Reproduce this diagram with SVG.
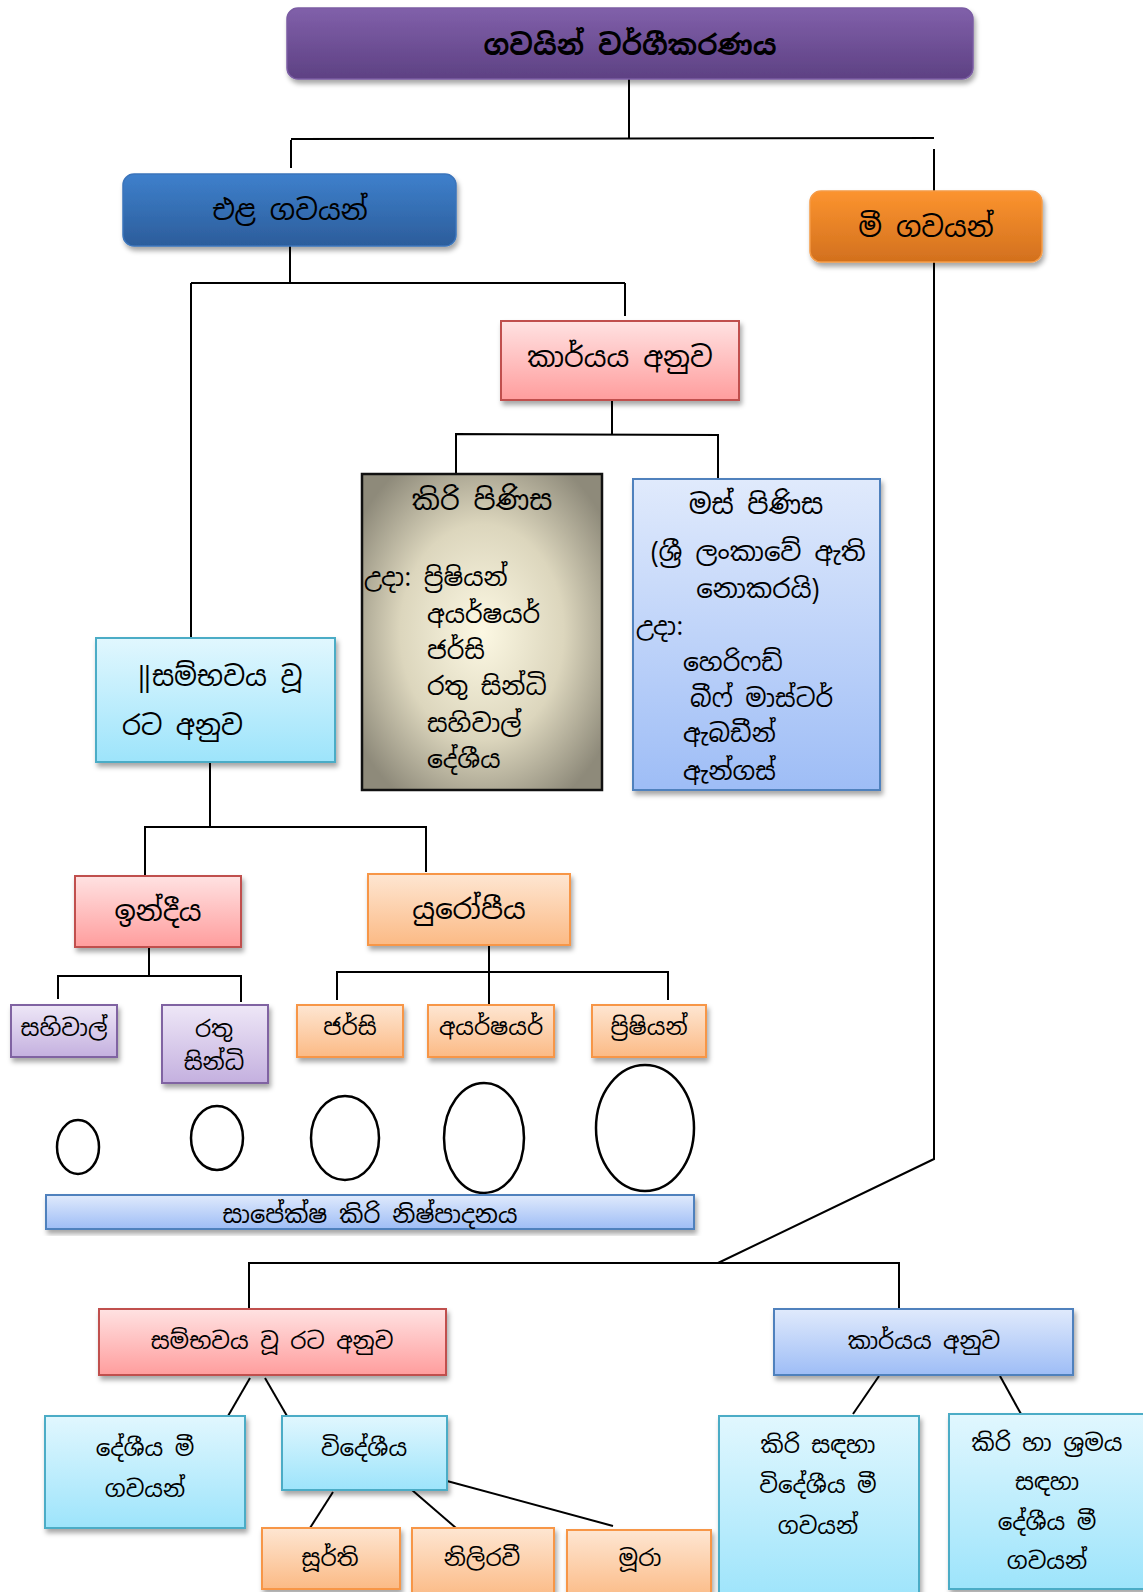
<svg xmlns="http://www.w3.org/2000/svg" width="1143" height="1592" viewBox="0 0 1143 1592">
<defs>
<linearGradient id="gPurple" x1="0" y1="0" x2="0" y2="1"><stop offset="0" stop-color="#8160aa"/><stop offset="1" stop-color="#5d4183"/></linearGradient>
<linearGradient id="gBlue" x1="0" y1="0" x2="0" y2="1"><stop offset="0" stop-color="#3e80cc"/><stop offset="1" stop-color="#2c5d9b"/></linearGradient>
<linearGradient id="gOrange" x1="0" y1="0" x2="0" y2="1"><stop offset="0" stop-color="#fc942f"/><stop offset="1" stop-color="#d2701e"/></linearGradient>
<linearGradient id="gPink" x1="0" y1="0" x2="0" y2="1"><stop offset="0" stop-color="#ffe2e2"/><stop offset="1" stop-color="#ff9d9d"/></linearGradient>
<linearGradient id="gCyan" x1="0" y1="0" x2="0" y2="1"><stop offset="0" stop-color="#e1f7fe"/><stop offset="1" stop-color="#9de4fb"/></linearGradient>
<linearGradient id="gLBlue" x1="0" y1="0" x2="0" y2="1"><stop offset="0" stop-color="#e0eafc"/><stop offset="1" stop-color="#9ebdf6"/></linearGradient>
<linearGradient id="gLOrange" x1="0" y1="0" x2="0" y2="1"><stop offset="0" stop-color="#fee6d2"/><stop offset="1" stop-color="#fbba85"/></linearGradient>
<linearGradient id="gLPurple" x1="0" y1="0" x2="0" y2="1"><stop offset="0" stop-color="#eee7f7"/><stop offset="1" stop-color="#c4b0df"/></linearGradient>
<radialGradient id="gBeige" cx="0.5" cy="0.5" r="0.62"><stop offset="0" stop-color="#fcf8e3"/><stop offset="0.55" stop-color="#dcd6bd"/><stop offset="1" stop-color="#8e8a7a"/></radialGradient>
<filter id="sh" x="-10%" y="-10%" width="125%" height="130%"><feDropShadow dx="2" dy="4" stdDeviation="2.5" flood-color="#000" flood-opacity="0.35"/></filter>
</defs>
<style>
text{font-family:"Noto Sans Sinhala","Iskoola Pota","Noto Serif Sinhala","Lohit Sinhala","Noto Sans",sans-serif;fill:#000;}
.c{text-anchor:middle;dominant-baseline:central;}
.l{text-anchor:start;dominant-baseline:central;}
.ln{stroke:#000;stroke-width:2;fill:none;}
.ell{stroke:#000;stroke-width:2.5;fill:#fff;}
.pink{fill:url(#gPink);stroke:#c0504d;stroke-width:2;filter:url(#sh);}
.cyan{fill:url(#gCyan);stroke:#4bacc6;stroke-width:2;filter:url(#sh);}
.lblue{fill:url(#gLBlue);stroke:#4f81bd;stroke-width:2;filter:url(#sh);}
.lorange{fill:url(#gLOrange);stroke:#f79646;stroke-width:2;filter:url(#sh);}
.lpurple{fill:url(#gLPurple);stroke:#8064a2;stroke-width:2;filter:url(#sh);}
</style>
<rect width="1143" height="1592" fill="#fff"/>

<g id="connectors">
<polyline class="ln" points="629,79 629,139"/>
<polyline class="ln" points="291,139 934,138"/>
<polyline class="ln" points="291,140 291,168"/>
<polyline class="ln" points="934,149 934,191"/>
<polyline class="ln" points="290,246 290,283"/>
<polyline class="ln" points="191,283 625,283"/>
<polyline class="ln" points="191,283 191,638"/>
<polyline class="ln" points="625,283 625,316"/>
<polyline class="ln" points="612,400 612,434"/>
<polyline class="ln" points="456,474 456,434 718,435 718,478"/>
<polyline class="ln" points="210,762 210,827"/>
<polyline class="ln" points="145,876 145,827 426,827 426,872"/>
<polyline class="ln" points="149,947 149,976"/>
<polyline class="ln" points="58,999 58,976 241,976 241,1002"/>
<polyline class="ln" points="489,945 489,1005"/>
<polyline class="ln" points="337,1000 337,972 668,972 668,1000"/>
<polyline class="ln" points="934,262 934,1159 718,1263"/>
<polyline class="ln" points="249,1309 249,1263 899,1263 899,1309"/>
<line class="ln" x1="250" y1="1378" x2="228" y2="1416"/>
<line class="ln" x1="265" y1="1378" x2="287" y2="1416"/>
<line class="ln" x1="333" y1="1492" x2="310" y2="1528"/>
<line class="ln" x1="412" y1="1490" x2="456" y2="1528"/>
<line class="ln" x1="447" y1="1481" x2="613" y2="1526"/>
<line class="ln" x1="879" y1="1376" x2="853" y2="1414"/>
<line class="ln" x1="1000" y1="1376" x2="1021" y2="1414"/>
</g>

<g id="title">
<rect x="287" y="8" width="686" height="71" rx="11" fill="url(#gPurple)" stroke="#7a5ca3" stroke-width="1.5" filter="url(#sh)"/>
<text class="c" x="630" y="45" font-size="28" font-weight="bold">ගවයින් වර්ගීකරණය</text>
</g>

<g id="ela">
<rect x="123" y="174" width="333" height="72" rx="11" fill="url(#gBlue)" stroke="#3b74bb" stroke-width="1.5" filter="url(#sh)"/>
<text class="c" x="290" y="210" font-size="28">එළ ගවයන්</text>
</g>

<g id="mee">
<rect x="810" y="191" width="232" height="71" rx="11" fill="url(#gOrange)" stroke="#f59a45" stroke-width="1.5" filter="url(#sh)"/>
<text class="c" x="926" y="227" font-size="28">මී ගවයන්</text>
</g>

<g id="karyaya1">
<rect class="pink" x="501" y="321" width="238" height="79"/>
<text class="c" x="620" y="357" font-size="28">කාර්යය අනුව</text>
</g>

<g id="kiri">
<rect x="362" y="474" width="240" height="316" fill="url(#gBeige)" stroke="#111" stroke-width="2.5"/>
<text class="c" x="482" y="500" font-size="28">කිරි පිණිස</text>
<text class="l" x="364" y="577" font-size="25">උදා: ප්‍රිෂියන්</text>
<text class="l" x="427" y="614" font-size="25">අයර්ෂයර්</text>
<text class="l" x="427" y="650" font-size="25">ජර්සි</text>
<text class="l" x="427" y="686" font-size="25">රතු සින්ධි</text>
<text class="l" x="427" y="723" font-size="25">සහිවාල්</text>
<text class="l" x="427" y="759" font-size="25">දේශීය</text>
</g>

<g id="mas">
<rect class="lblue" x="633" y="479" width="247" height="311"/>
<text class="c" x="756" y="504" font-size="27">මස් පිණිස</text>
<text class="c" x="758" y="552" font-size="26">(ශ්‍රී ලංකාවේ ඇති</text>
<text class="c" x="758" y="589" font-size="26">නොකරයි)</text>
<text class="l" x="636" y="626" font-size="25">උදා:</text>
<text class="l" x="683" y="662" font-size="25">හෙරිෆඩ්</text>
<text class="l" x="690" y="698" font-size="25">බීෆ් මාස්ටර්</text>
<text class="l" x="683" y="733" font-size="25">ඇබඩීන්</text>
<text class="l" x="683" y="771" font-size="25">ඇන්ගස්</text>
</g>

<g id="sambhavaya1">
<rect class="cyan" x="96" y="638" width="239" height="124"/>
<text class="l" x="137" y="676" font-size="27">‖සම්භවය වූ</text>
<text class="l" x="122" y="725" font-size="27">රට අනුව</text>
</g>

<g id="indiya">
<rect class="pink" x="75" y="876" width="166" height="71"/>
<text class="c" x="158" y="911" font-size="28">ඉන්දීය</text>
</g>

<g id="europiya">
<rect class="lorange" x="368" y="874" width="202" height="71"/>
<text class="c" x="469" y="909" font-size="28">යුරෝපීය</text>
</g>

<g id="sahiwal">
<rect class="lpurple" x="11" y="1005" width="106" height="52"/>
<text class="c" x="64" y="1028" font-size="23">සහිවාල්</text>
</g>

<g id="rathusindhi">
<rect class="lpurple" x="162" y="1005" width="106" height="78"/>
<text class="c" x="214" y="1029" font-size="23">රතු</text>
<text class="c" x="214" y="1062" font-size="23">සින්ධි</text>
</g>

<g id="jersey">
<rect class="lorange" x="297" y="1005" width="106" height="52"/>
<text class="c" x="350" y="1027" font-size="23">ජර්සි</text>
</g>

<g id="ayrshire">
<rect class="lorange" x="428" y="1005" width="126" height="52"/>
<text class="c" x="491" y="1027" font-size="23">අයර්ෂයර්</text>
</g>

<g id="friesian">
<rect class="lorange" x="592" y="1005" width="114" height="52"/>
<text class="c" x="649" y="1027" font-size="23">ප්‍රිෂියන්</text>
</g>

<g id="ellipses">
<ellipse class="ell" cx="78" cy="1147" rx="21" ry="27"/>
<ellipse class="ell" cx="217" cy="1138" rx="26" ry="32"/>
<ellipse class="ell" cx="345" cy="1138" rx="34" ry="42"/>
<ellipse class="ell" cx="484" cy="1138" rx="40" ry="55"/>
<ellipse class="ell" cx="645" cy="1128" rx="49" ry="63"/>
</g>

<g id="milkbar">
<rect class="lblue" x="46" y="1195" width="648" height="34"/>
<text class="c" x="370" y="1214" font-size="24">සාපේක්ෂ කිරි නිෂ්පාදනය</text>
</g>

<g id="sambhavaya2">
<rect class="pink" x="99" y="1309" width="347" height="66"/>
<text class="c" x="272" y="1341" font-size="23">සම්භවය වූ රට අනුව</text>
</g>

<g id="karyaya2">
<rect class="lblue" x="774" y="1309" width="299" height="66"/>
<text class="c" x="924" y="1341" font-size="23">කාර්යය අනුව</text>
</g>

<g id="deshiyamee">
<rect class="cyan" x="45" y="1416" width="200" height="112"/>
<text class="c" x="145" y="1448" font-size="23">දේශීය මී</text>
<text class="c" x="145" y="1489" font-size="23">ගවයන්</text>
</g>

<g id="videshiya">
<rect class="cyan" x="282" y="1416" width="165" height="74"/>
<text class="c" x="364" y="1448" font-size="23">විදේශීය</text>
</g>

<g id="surti">
<rect class="lorange" x="262" y="1528" width="138" height="61"/>
<text class="c" x="330" y="1558" font-size="23">සූර්ති</text>
</g>

<g id="nilirawi">
<rect class="lorange" x="412" y="1528" width="142" height="70"/>
<text class="c" x="482" y="1558" font-size="23">නිලිරවී</text>
</g>

<g id="moora">
<rect class="lorange" x="567" y="1530" width="144" height="70"/>
<text class="c" x="640" y="1558" font-size="23">මූරා</text>
</g>

<g id="kirivideshiya">
<rect class="cyan" x="719" y="1416" width="200" height="185"/>
<text class="c" x="818" y="1445" font-size="23">කිරි සඳහා</text>
<text class="c" x="818" y="1485" font-size="23">විදේශීය මී</text>
<text class="c" x="818" y="1526" font-size="23">ගවයන්</text>
</g>

<g id="kirishramaya">
<rect class="cyan" x="949" y="1414" width="200" height="175"/>
<text class="c" x="1047" y="1443" font-size="23">කිරි හා ශ්‍රමය</text>
<text class="c" x="1047" y="1482" font-size="23">සඳහා</text>
<text class="c" x="1047" y="1522" font-size="23">දේශීය මී</text>
<text class="c" x="1047" y="1561" font-size="23">ගවයන්</text>
</g>
</svg>
